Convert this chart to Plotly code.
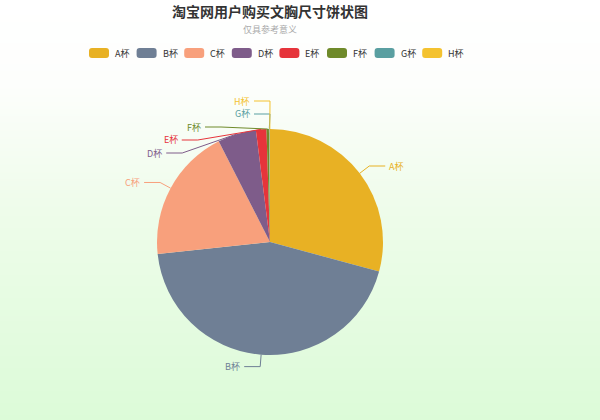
import math
import numpy as np
import plotly.graph_objects as go

# 数据
cups = ['A杯', 'B杯', 'C杯', 'D杯', 'E杯', 'F杯', 'G杯', 'H杯']
shares = [29.2, 44.1, 19.2, 5.5, 1.5, 0.35, 0.1, 0.05]
colors = ['#e8b124', '#6f7f95', '#f8a07c', '#7e5c8a', '#e6343b', '#6f8a2a', '#5a9fa1', '#f4c22f']

W, H = 600, 420
cx, cy, R = 270, 242, 113  # 饼图中心和半径（像素）


def px(x, y):
    return x / W, 1 - y / H


def round_rect(x0, y0, w, h, r):
    # 圆角矩形路径（像素 -> paper）
    pts = [
        ('M', [(x0 + r, y0)]), ('L', [(x0 + w - r, y0)]), ('Q', [(x0 + w, y0), (x0 + w, y0 + r)]),
        ('L', [(x0 + w, y0 + h - r)]), ('Q', [(x0 + w, y0 + h), (x0 + w - r, y0 + h)]),
        ('L', [(x0 + r, y0 + h)]), ('Q', [(x0, y0 + h), (x0, y0 + h - r)]),
        ('L', [(x0, y0 + r)]), ('Q', [(x0, y0), (x0 + r, y0)]),
    ]
    out = []
    for cmd, ps in pts:
        out.append(cmd + ' '.join('{},{}'.format(*px(a, b)) for a, b in ps))
    return ' '.join(out) + ' Z'


fig = go.Figure()

# 渐变背景
ys = np.linspace(0, 1, 21)
fig.add_trace(go.Heatmap(
    z=[[v, v] for v in ys], x=[0, 1], y=ys,
    colorscale=[[0, '#dcfbd8'], [0.5, '#eefcea'], [0.8, '#fdfefc'], [1, '#ffffff']],
    zsmooth='best', showscale=False, hoverinfo='skip'
))

fig.add_trace(go.Pie(
    labels=cups, values=shares, sort=False, direction='clockwise', rotation=0,
    marker=dict(colors=colors), textinfo='none', hole=0,
    domain=dict(x=[(cx - R) / W, (cx + R) / W], y=[1 - (cy + R) / H, 1 - (cy - R) / H]),
    hovertemplate='%{label}: %{percent}<extra></extra>', showlegend=False
))

# 标签和引导线（由数据计算角度）
L1, L2, GAP = 12, 16, 13
RL = R + L1
total = sum(shares)
items = []
acc = 0
for name, v, c in zip(cups, shares, colors):
    mid = (acc + v / 2) / total * 2 * math.pi
    acc += v
    sx, sy = math.sin(mid), -math.cos(mid)
    p0 = (cx + R * sx, cy + R * sy)
    p1 = [cx + RL * sx, cy + RL * sy]
    items.append(dict(name=name, c=c, p0=p0, p1=p1, nat=p1[1], right=sx >= 0))

# 左侧标签避让：先向下推开，再把重叠的一组居中，顶端不超过上限
left = sorted([it for it in items if not it['right']], key=lambda it: it['nat'])
for a, b in zip(left, left[1:]):
    if b['p1'][1] - a['p1'][1] < GAP:
        b['p1'][1] = a['p1'][1] + GAP
groups = [[left[0]]]
for a, b in zip(left, left[1:]):
    if abs(b['p1'][1] - a['p1'][1] - GAP) < 1e-6:
        groups[-1].append(b)
    else:
        groups.append([b])
top_limit = cy - RL - 16
for g in groups:
    if len(g) < 2:
        continue
    shift = np.mean([it['nat'] for it in g]) - np.mean([it['p1'][1] for it in g])
    shift = max(shift, top_limit - g[0]['p1'][1])
    for it in g:
        it['p1'][1] += shift
        dy = it['p1'][1] - cy
        it['p1'][0] = cx - math.sqrt(max(0.0, RL ** 2 - dy ** 2))

shapes = []
annotations = []
for it in items:
    x0, y0 = it['p0']
    x1, y1 = it['p1']
    x2 = x1 + (L2 if it['right'] else -L2)
    a0, b0 = px(x0, y0)
    a1, b1 = px(x1, y1)
    a2, _ = px(x2, y1)
    shapes.append(dict(type='path', path=f"M{a0},{b0} L{a1},{b1} L{a2},{b1}",
                       xref='paper', yref='paper', line=dict(color=it['c'], width=1)))
    tx, ty = px(x2 + (3 if it['right'] else -3), y1)
    annotations.append(dict(
        x=tx, y=ty, xref='paper', yref='paper', text=it['name'], showarrow=False,
        font=dict(size=9, color=it['c']), borderpad=0,
        xanchor='left' if it['right'] else 'right', yanchor='middle'
    ))

# 图例（圆角色块 + 文字）
for i, (name, c) in enumerate(zip(cups, colors)):
    lx = 89 + i * 47.6
    shapes.append(dict(type='path', path=round_rect(lx, 48, 20, 10, 3),
                       xref='paper', yref='paper', fillcolor=c, line=dict(width=0)))
    tx, ty = px(lx + 24, 53)
    annotations.append(dict(x=tx, y=ty, xref='paper', yref='paper', text=name,
                            showarrow=False, font=dict(size=9, color='#333333'),
                            xanchor='left', yanchor='middle'))

annotations.append(dict(
    x=270 / W, y=1 - 30 / H, xref='paper', yref='paper', text='仅具参考意义', showarrow=False,
    font=dict(size=9, color='#aaaaaa'), xanchor='center', yanchor='middle'
))

fig.update_layout(
    width=W, height=H,
    margin=dict(l=0, r=0, t=0, b=0),
    title=dict(text='<b>淘宝网用户购买文胸尺寸饼状图</b>', x=270 / W, xanchor='center',
               y=1 - 12 / H, yanchor='middle', font=dict(size=14, color='#333333')),
    font=dict(family='Noto Sans CJK SC, sans-serif', color='#333333'),
    xaxis=dict(visible=False, range=[0, 1], domain=[0, 1], fixedrange=True),
    yaxis=dict(visible=False, range=[0, 1], domain=[0, 1], fixedrange=True),
    showlegend=False,
    shapes=shapes, annotations=annotations,
    paper_bgcolor='white', plot_bgcolor='white'
)

fig.write_html("out.html", config={'displayModeBar': False},
               post_script="document.body.style.margin='0';")
